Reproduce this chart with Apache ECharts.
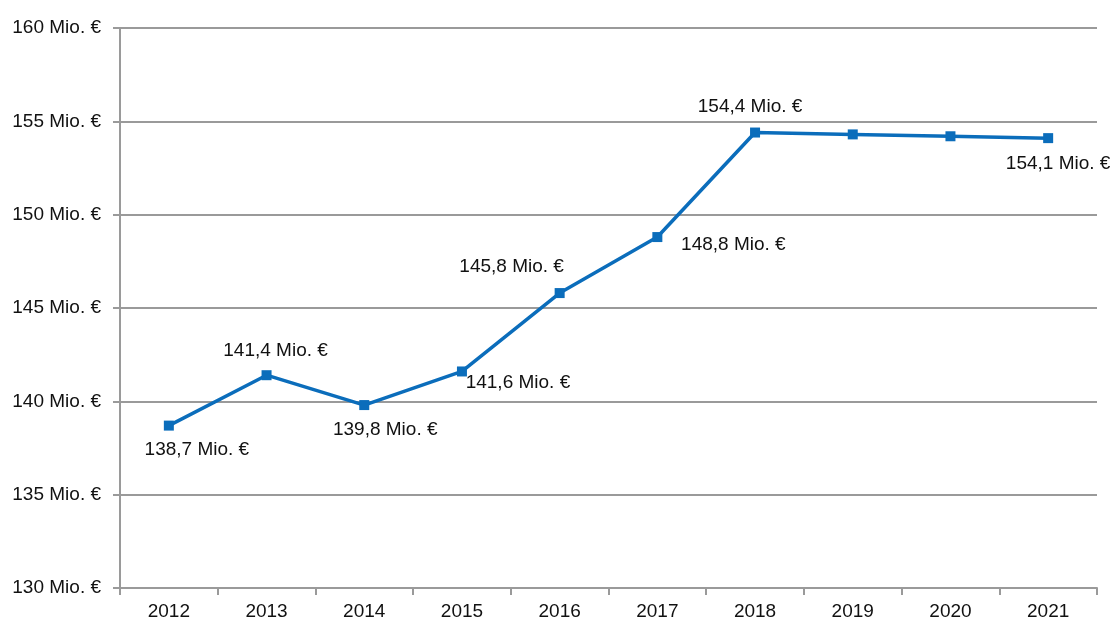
<!DOCTYPE html>
<html>
<head>
<meta charset="utf-8">
<script src="https://cdn.jsdelivr.net/npm/echarts@6/dist/echarts.min.js"></script>
<style>
  html,body{margin:0;padding:0;background:#fff;}
  #chart{width:1112px;height:625px;}
</style>
</head>
<body>
<div id="chart"></div>
<script>
var years = ['2012','2013','2014','2015','2016','2017','2018','2019','2020','2021'];
var values = [138.7, 141.4, 139.8, 141.6, 145.8, 148.8, 154.4, 154.3, 154.2, 154.1];
// label offset from each point (null = no label)
var labelOffset = [[28,24],[9,-24],[21,25],[56,11],[-48,-26],[76,8],[-5,-26],null,null,[10,26]];

var FONT = '"Liberation Sans Narrow", "Arial Narrow", "Liberation Sans", sans-serif';

var chart = echarts.init(document.getElementById('chart'));

var seriesData = values.map(function(v, i){
    var item = { value: v };
    if (labelOffset[i]) {
        item.label = {
            show: true,
            position: 'inside',
            offset: labelOffset[i],
            formatter: function(p){ return String(p.value).replace('.', ',') + ' Mio. €'; }
        };
    } else {
        item.label = { show: false };
    }
    return item;
});

var option = {
    animation: false,
    grid: { left: 120, right: 15, top: 28, bottom: 37 },
    xAxis: {
        type: 'category',
        data: years,
        boundaryGap: true,
        axisLine: { lineStyle: { color: '#9a9a9a', width: 2 } },
        axisTick: { show: true, length: 7, lineStyle: { color: '#9a9a9a', width: 2 } },
        axisLabel: { color: '#111', fontSize: 19, fontFamily: FONT, margin: 14 }
    },
    yAxis: {
        type: 'value',
        min: 130,
        max: 160,
        interval: 5,
        axisLine: { show: true, lineStyle: { color: '#9a9a9a', width: 2 } },
        axisTick: { show: true, length: 7, lineStyle: { color: '#9a9a9a', width: 2 } },
        splitLine: { lineStyle: { color: '#9a9a9a', width: 2 } },
        axisLabel: {
            color: '#111', fontSize: 19, fontFamily: FONT, margin: 19,
            formatter: function(v){ return v + ' Mio. €'; }
        }
    },
    series: [{
        type: 'line',
        data: seriesData,
        symbol: 'rect',
        symbolSize: 10,
        lineStyle: { color: '#0b6dbb', width: 3.5 },
        itemStyle: { color: '#0b6dbb' },
        label: { color: '#111', fontSize: 19, fontFamily: FONT }
    }]
};
chart.setOption(option);
</script>
</body>
</html>
